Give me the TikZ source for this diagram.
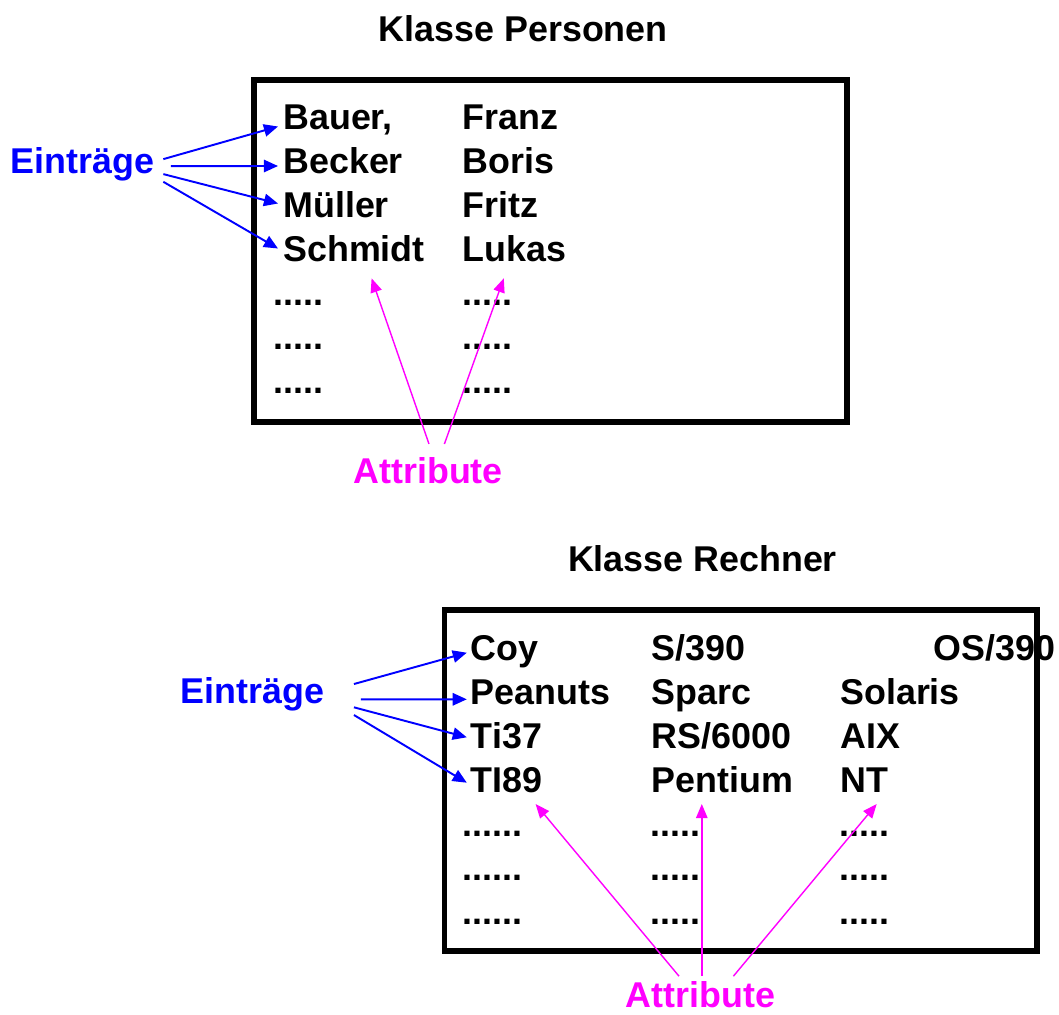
\documentclass[tikz,border=0pt]{standalone}
\usepackage{fontspec}
\setmainfont{Liberation Sans}
\usetikzlibrary{arrows.meta}
\definecolor{attmag}{RGB}{255,0,255}
\definecolor{einblue}{RGB}{0,0,255}
\tikzset{
  entry/.style={anchor=base west, inner sep=0pt, font=\bfseries\fontsize{20.4}{24}\selectfont},
  lbl/.style={anchor=base, inner sep=0pt, font=\bfseries\fontsize{20.4}{24}\selectfont},
  frame/.style={line width=3pt},
  einarrow/.style={einblue, line width=1.1pt, -{Triangle[length=8pt,width=7pt]}},
  attarrow/.style={attmag, line width=0.8pt, -{Triangle[length=8pt,width=6.5pt]}}
}
\begin{document}
\begin{tikzpicture}[x=0.02cm, y=-0.02cm]
\useasboundingbox (0,0) rectangle (1059,1015);
% Klasse Personen
\node[lbl] (titleP) at (523.3,41.5) {Klasse Personen};
\draw[frame] (254,80) rectangle (847,422);
\foreach \nm/\vn [count=\i] in {{Bauer,}/Franz, Becker/Boris, Müller/Fritz, Schmidt/Lukas} {
  \node[entry] (pn\i) at (283,85.5+44*\i) {\nm};
  \node[entry] (pv\i) at (462,85.5+44*\i) {\vn};
}
\foreach \k in {5,6,7} {
  \node[entry] (pn\k) at (273.5,85.5+44*\k) {.....};
  \node[entry] (pv\k) at (462,85.5+44*\k) {.....};
}
\node[lbl, einblue] (einP) at (82.3,173.3) {Einträge};
\node[lbl, attmag] (attP) at (428.2,483.3) {Attribute};
\foreach \i/\sx/\sy/\ty in {1/9/-5/-3, 2/16.5/2/-7.5, 3/9/10/-14, 4/9/17.7/-13}
  \draw[einarrow] ([shift={(\sx,\sy)}]einP.east) -- ([shift={(-5,\ty)}]pn\i.base west);
\draw[attarrow] ([shift={(0.8,-13)}]attP.north) -- ([shift={(88.6,16.8)}]pn4.base west);
\draw[attarrow] ([shift={(16.2,-13)}]attP.north) -- ([shift={(41.8,16.8)}]pv4.base west);
% Klasse Rechner
\node[lbl] (titleR) at (702.5,571.7) {Klasse Rechner};
\draw[frame] (444.5,610) rectangle (1037,951);
\foreach \nm/\hw [count=\i] in {Coy/{S/390}, Peanuts/Sparc, Ti37/{RS/6000}, TI89/Pentium} {
  \node[entry] (rn\i) at (470.5,616+44*\i) {\nm};
  \node[entry] (rh\i) at (651.5,616+44*\i) {\hw};
}
\node[entry] (ro1) at (933.5,660) {OS/390};
\foreach \os [count=\i from 2] in {Solaris, AIX, NT}
  \node[entry] (ro\i) at (840,616+44*\i) {\os};
\foreach \k in {5,6,7} {
  \node[entry] (rn\k) at (462.6,616+44*\k) {......};
  \node[entry] (rh\k) at (650.6,616+44*\k) {.....};
  \node[entry] (ro\k) at (839.6,616+44*\k) {.....};
}
\node[lbl, einblue] (einR) at (252.6,703) {Einträge};
\node[lbl, attmag] (attR) at (700.4,1007.5) {Attribute};
\foreach \i/\sx/\sy/\ty in {1/29.3/-9.8/-7.3, 2/36.2/5.5/-4.7, 3/29.3/13.5/-10.7, 4/29.3/21.2/-9.3}
  \draw[einarrow] ([shift={(\sx,\sy)}]einR.east) -- ([shift={(-3.7,\ty)}]rn\i.base west);
\draw[attarrow] ([shift={(-21.4,-5)}]attR.north) -- ([shift={(65.1,12)}]rn4.base west);
\draw[attarrow] ([shift={(1.4,-5)}]attR.north) -- ([shift={(50.3,12)}]rh4.base west);
\draw[attarrow] ([shift={(33,-5)}]attR.north) -- ([shift={(36.7,12)}]ro4.base west);
\end{tikzpicture}
\end{document}
